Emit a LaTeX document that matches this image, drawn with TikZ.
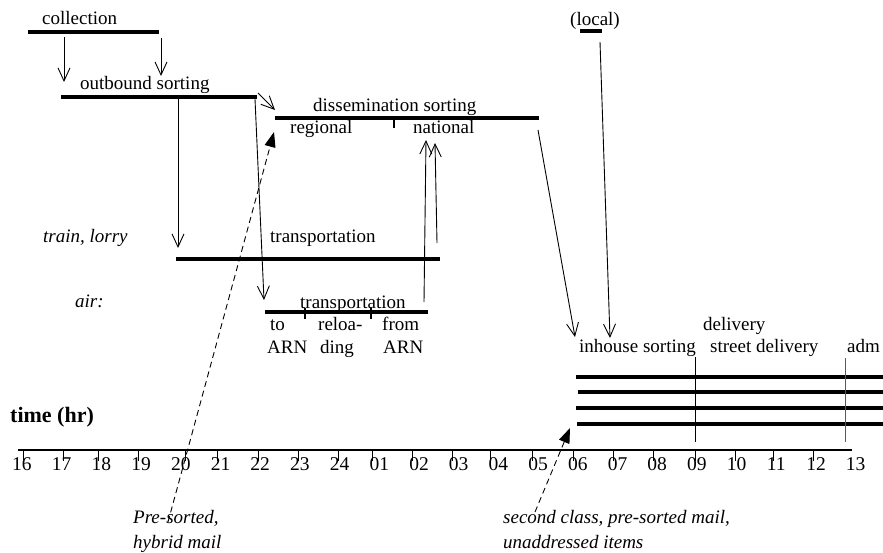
\documentclass[tikz,border=0pt]{standalone}
\usepackage{fontspec}
\setmainfont{Liberation Serif}
\usetikzlibrary{arrows.meta}
\begin{document}
\begin{tikzpicture}[x=1pt,y=-1pt,
  bar/.style={line width=3.6pt},
  thinline/.style={line width=0.9pt},
  varr/.style={line width=0.9pt,-{Straight Barb[length=13pt,width=12pt,line width=0.9pt]}},
  darr/.style={line width=0.9pt,dash pattern=on 6pt off 4pt,-{Triangle[length=15pt,width=11pt]}},
  lbl/.style={inner sep=0pt,anchor=base west,font=\fontsize{19}{22}\selectfont},
  ilbl/.style={lbl,font=\fontsize{19}{22}\selectfont\itshape},
  num/.style={inner sep=0pt,anchor=base,font=\fontsize{19.5}{22}\selectfont}]
\useasboundingbox (0,0) rectangle (883,553);

% ---- bars (named end points)
\coordinate (colA) at (28,32);   \coordinate (colB) at (159,32);
\coordinate (obA) at (61,97);    \coordinate (obB) at (257,97);
\coordinate (dsA) at (275,118);  \coordinate (dsB) at (539,118);
\coordinate (lcA) at (580,31);   \coordinate (lcB) at (602,31);
\coordinate (trA) at (176,259);  \coordinate (trB) at (440,259);
\coordinate (arA) at (265,312);  \coordinate (arB) at (428,312);
\draw[bar] (colA) -- (colB);
\draw[bar] (obA) -- (obB);
\draw[bar] (dsA) -- (dsB);
\draw[bar] (lcA) -- (lcB);
\draw[bar] (trA) -- (trB);
\draw[bar] (arA) -- (arB);
% ticks on bars
\draw[line width=1.4pt] (394,118) -- (394,128);
\draw[line width=1.4pt] (305,308) -- (305,319);
\draw[line width=1.4pt] (371,308) -- (371,319);

% delivery bars
\foreach \yy/\xs in {377/576,392/578,408/576,424/577}
  \draw[bar] (\xs,\yy) -- (883,\yy);
\draw[thinline] (695,357) -- (695,442);
\draw[thinline,gray!70!black] (845,358) -- (845,442);

% ---- labels
\node[lbl] (tcol) at (42,25) {collection};
\node[lbl] (tob) at (80,90) {outbound sorting};
\node[lbl] (tds) at (313,112) {dissemination sorting};
\node[lbl] (treg) at (290,134) {regional};
\node[lbl] (tnat) at (413,134) {national};
\node[lbl] (tloc) at (570,26) {(local)};
\node[ilbl] (ttrain) at (43,243) {train, lorry};
\node[lbl] (ttr1) at (270,243) {transportation};
\node[ilbl] (tair) at (75,307) {air:};
\node[lbl] (ttr2) at (300,308) {transportation};
\node[lbl] (tto) at (270,330) {to};
\node[lbl] (tarn1) at (267,353) {ARN};
\node[lbl] (trel) at (318,330) {reloa-};
\node[lbl] (tding) at (320,353) {ding};
\node[lbl] (tfrom) at (382,330) {from};
\node[lbl] (tarn2) at (383,353) {ARN};
\node[lbl] (tdel) at (703,330) {delivery};
\node[lbl] (tin) at (579,352) {inhouse sorting};
\node[lbl] (tst) at (710,352) {street delivery};
\node[lbl] (tadm) at (847,352) {adm};
\node[lbl,font=\fontsize{22}{25}\selectfont\bfseries] (ttime) at (10,422) {time (hr)};
\node[ilbl] (tpre1) at (133,523) {Pre-sorted,};
\node[ilbl] (tpre2) at (133,548) {hybrid mail};
\node[ilbl] (tsec1) at (503,523) {second class, pre-sorted mail,};
\node[ilbl] (tsec2) at (503,548) {unaddressed items};

% ---- time axis
\coordinate (axA) at (18,450); \coordinate (axB) at (852,450);
\draw[line width=1.2pt] (axA) -- (axB);
\foreach \tx in {23,63,98,138,185,217,258,298,338,372,412,452,490,532,573,613,653,695,735,773,813}
  \draw[line width=1pt] (\tx,450) -- (\tx,461);
\foreach \lab [count=\i from 0] in {16,17,18,19,20,21,22,23,24,01,02,03,04,05,06,07,08,09,10,11,12,13}
  \node[num] (h\i) at ({22+39.7*\i},470) {\lab};

% ---- arrows
\coordinate (a1s) at (64,37);   \coordinate (a1e) at (64,82);
\coordinate (a2s) at (161,38);  \coordinate (a2e) at (161,76);
\coordinate (a3s) at (258,93);  \coordinate (a3e) at (275,110);
\coordinate (a4s) at (178,99);  \coordinate (a4e) at (178,248);
\coordinate (a5s) at (255,99);  \coordinate (a5e) at (264,300);
\coordinate (a6s) at (424,302); \coordinate (a6e) at (426,140);
\coordinate (a7s) at (437,243); \coordinate (a7e) at (435,143);
\coordinate (a8s) at (538,130); \coordinate (a8e) at (575,337);
\coordinate (a9s) at (600,42);  \coordinate (a9e) at (610,338);
\draw[varr] (a1s) -- (a1e);
\draw[varr] (a2s) -- (a2e);
\draw[varr] (a3s) -- (a3e);
\draw[varr] (a4s) -- (a4e);
\draw[varr] (a5s) -- (a5e);
\draw[varr] (a6s) -- (a6e);
\draw[varr] (a7s) -- (a7e);
\draw[varr] (a8s) -- (a8e);
\draw[varr] (a9s) -- (a9e);

% ---- dashed arrows
\coordinate (d1s) at (168,522); \coordinate (d1e) at (274,132);
\coordinate (d2s) at (535,512); \coordinate (d2e) at (570,428);
\draw[darr] (d1s) -- (d1e);
\draw[darr] (d2s) -- (d2e);
\end{tikzpicture}
\end{document}
